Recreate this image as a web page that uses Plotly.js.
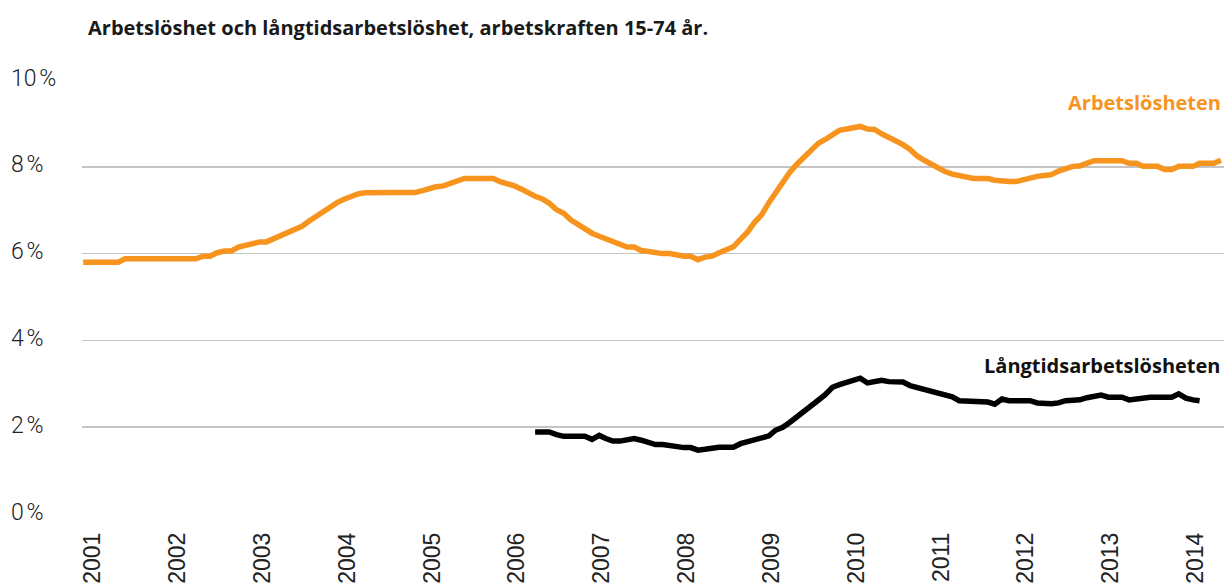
<!DOCTYPE html>
<html>
<head>
<meta charset="utf-8">
<script src="https://cdn.plot.ly/plotly-3.0.1.min.js"></script>
<style>
html,body{margin:0;padding:0;background:#fff;}
#chart{width:1226px;height:587px;}
</style>
</head>
<body>
<div id="chart"></div>
<script>
// Monthly series, first month January 2001
const startYear = 2001;
const arbetsloshet = [
  5.80,5.80,5.80,5.80,5.80,5.80,5.88,5.88,5.88,5.88,5.88,5.88,
  5.88,5.88,5.88,5.88,5.88,5.94,5.94,6.02,6.06,6.06,6.15,6.19,
  6.23,6.27,6.27,6.34,6.42,6.47,6.54,6.63,6.75,6.86,6.94,7.08,
  7.18,7.26,7.33,7.38,7.40,7.41,7.41,7.41,7.41,7.41,7.41,7.41,
  7.45,7.51,7.54,7.56,7.62,7.67,7.73,7.73,7.73,7.73,7.73,7.66,
  7.62,7.56,7.49,7.40,7.32,7.26,7.16,7.01,6.93,6.78,6.67,6.59,
  6.47,6.40,6.34,6.29,6.24,6.15,6.15,6.07,6.05,6.02,6.00,6.00,
  5.96,5.94,5.94,5.86,5.92,5.94,6.02,6.08,6.16,6.33,6.50,6.72,
  6.90,7.18,7.40,7.60,7.87,8.06,8.22,8.40,8.54,8.63,8.75,8.84,
  8.87,8.91,8.93,8.87,8.86,8.76,8.68,8.60,8.51,8.40,8.25,8.15,
  8.06,7.95,7.89,7.83,7.79,7.75,7.73,7.73,7.73,7.69,7.66,7.66,
  7.66,7.71,7.74,7.78,7.80,7.82,7.90,7.97,8.01,8.02,8.08,8.14,
  8.14,8.14,8.14,8.14,8.08,8.08,8.01,8.01,8.01,7.94,7.94,8.01,
  8.01,8.01,8.08,8.08,8.08,8.15
];
// Long-term unemployment starts May 2006 (month offset 64 from Jan 2001)
const langtidStartOffset = 64;
const langtidsarbetsloshet = [
  1.89,1.89,1.89,1.83,1.79,1.79,1.79,1.79,
  1.72,1.81,1.74,1.68,1.68,1.72,1.74,1.70,1.66,1.60,1.60,1.57,
  1.54,1.53,1.53,1.47,1.49,1.53,1.54,1.54,1.54,1.62,1.67,1.73,
  1.75,1.80,1.93,2.00,2.11,2.23,2.36,2.50,2.62,2.75,2.92,2.98,
  3.03,3.08,3.13,3.02,3.06,3.08,3.05,3.04,3.04,2.96,2.92,2.88,
  2.82,2.79,2.75,2.70,2.61,2.61,2.61,2.61,2.58,2.53,2.65,2.61,
  2.61,2.61,2.61,2.56,2.54,2.54,2.56,2.61,2.62,2.63,2.68,2.72,
  2.74,2.69,2.69,2.69,2.63,2.65,2.69,2.69,2.69,2.69,2.69,2.77,
  2.67,2.63,2.61
];
const tickYears = [2001,2002,2003,2004,2005,2006,2007,2008,2009,2010,2011,2012,2013,2014];
const yTickVals = [0,2,4,6,8,10];
const yTickText = ['0\u202F%','2\u202F%','4\u202F%','6\u202F%','8\u202F%','10\u202F%'];
const seriesNames = ['Arbetslösheten','Långtidsarbetslösheten'];
const chartTitle = 'Arbetslöshet och långtidsarbetslöshet, arbetskraften 15-74 år.';

function monthDate(offset){
  const y = startYear + Math.floor(offset/12);
  const m = offset % 12 + 1;
  return y + '-' + (m<10?'0':'') + m + '-01';
}
const xOrange = arbetsloshet.map((v,i)=>monthDate(i));
const xBlack = langtidsarbetsloshet.map((v,i)=>monthDate(i+langtidStartOffset));

const orange = '#F7941E';
const boldFont = 'Open Sans, Roboto, sans-serif';
const traces = [
  {x:xOrange, y:arbetsloshet, type:'scatter', mode:'lines', name:seriesNames[0],
   line:{color:orange, width:5.5}, hoverinfo:'x+y'},
  {x:xBlack, y:langtidsarbetsloshet, type:'scatter', mode:'lines', name:seriesNames[1],
   line:{color:'#000000', width:5.5}, hoverinfo:'x+y'}
];

const annotations = yTickVals.map((v,i)=>({
  xref:'paper', yref:'y', x:0, y:v, xanchor:'left', yanchor:'middle',
  xshift:-73, yshift:2, text:yTickText[i], showarrow:false,
  font:{family:'Roboto, sans-serif', size:23, color:'#222', weight:300}
}));
annotations.push({
  xref:'paper', yref:'y', x:1, y:9.48, xanchor:'right', yanchor:'middle', xshift:-1,
  text:'<b>'+seriesNames[0]+'</b>', showarrow:false,
  font:{family:boldFont, size:20, color:orange}
});
annotations.push({
  xref:'paper', yref:'y', x:1, y:3.43, xanchor:'right', yanchor:'middle', xshift:-1,
  text:'<b>'+seriesNames[1]+'</b>', showarrow:false,
  font:{family:boldFont, size:20, color:'#111'}
});

const layout = {
  width:1226, height:587,
  paper_bgcolor:'#ffffff', plot_bgcolor:'#ffffff',
  margin:{l:82, r:2, t:80, b:73, pad:0},
  showlegend:false,
  title:{text:'<b>'+chartTitle+'</b>', xref:'container', yref:'container',
         x:88/1226, xanchor:'left', y:1-28/587, yanchor:'middle',
         font:{family:boldFont, size:20, color:'#1a1a1a'}},
  xaxis:{type:'date', range:['2000-12-27','2014-06-14'],
         tickvals:tickYears.map(y=>y+'-02-12'), ticktext:tickYears.map(String),
         tickangle:-90, ticks:'', showgrid:false, zeroline:false, showline:false,
         ticklabelstandoff:13,
         tickfont:{family:'Liberation Sans, Arial, sans-serif', size:23, color:'#222'}},
  yaxis:{range:[0,10], tickvals:yTickVals, showticklabels:false, showgrid:true,
         gridcolor:'#c4c4c4', gridwidth:1.5, zeroline:false, showline:false, ticks:''},
  annotations:annotations
};
Plotly.newPlot('chart', traces, layout, {displayModeBar:false, staticPlot:true});
</script>
</body>
</html>
